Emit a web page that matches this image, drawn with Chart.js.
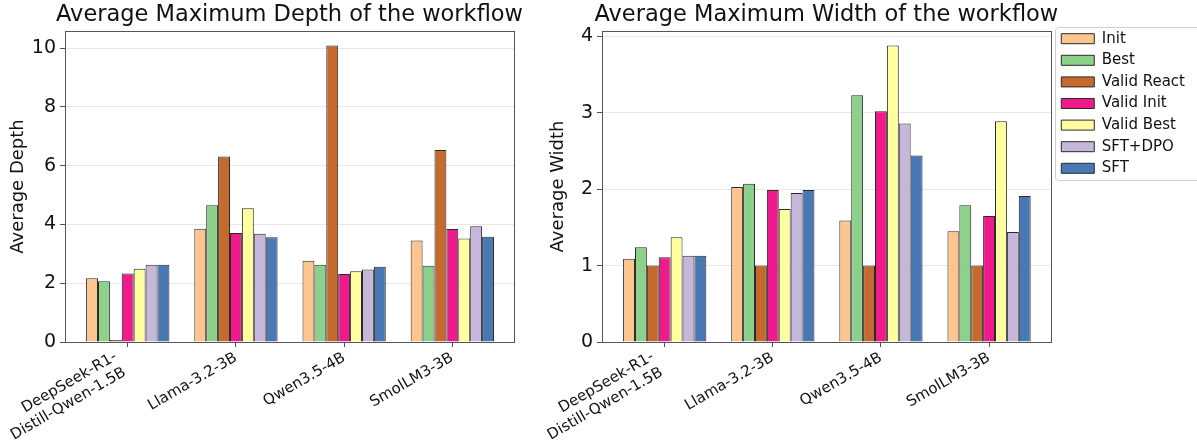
<!DOCTYPE html>
<html>
<head>
<meta charset="utf-8">
<script src="https://cdn.jsdelivr.net/npm/chart.js@4.4.1/dist/chart.umd.min.js"></script>
<style>
  body { margin: 0; background: #fff; width: 1197px; height: 441px; overflow: hidden; position: relative; }
  .box { position: absolute; top: 0; height: 441px; }
  #left { left: 0; width: 540px; }
  #right { left: 540px; width: 657px; }
</style>
</head>
<body>
<div class="box" id="left"><canvas id="depthChart"></canvas></div>
<div class="box" id="right"><canvas id="widthChart"></canvas></div>
<script>
// categories (x axis)
const models = [['DeepSeek-R1-', 'Distill-Qwen-1.5B'], 'Llama-3.2-3B', 'Qwen3.5-4B', 'SmolLM3-3B'];
const methods = ['Init', 'Best', 'Valid React', 'Valid Init', 'Valid Best', 'SFT+DPO', 'SFT'];
const methodColors = ['#fdc48f', '#8dd08b', '#c46a2e', '#f01b8b', '#ffff9f', '#c5b7da', '#4a78b5'];

// Average Maximum Depth
const depthInit       = [2.17, 3.85, 2.76, 3.45];
const depthBest       = [2.07, 4.65, 2.63, 2.59];
const depthValidReact = [0.07, 6.31, 10.09, 6.53];
const depthValidInit  = [2.33, 3.71, 2.31, 3.84];
const depthValidBest  = [2.49, 4.55, 2.41, 3.52];
const depthSftDpo     = [2.63, 3.68, 2.47, 3.94];
const depthSft        = [2.63, 3.56, 2.56, 3.58];

// Average Maximum Width
const widthInit       = [1.09, 2.03, 1.59, 1.45];
const widthBest       = [1.24, 2.07, 3.23, 1.79];
const widthValidReact = [1.00, 1.00, 1.00, 1.00];
const widthValidInit  = [1.11, 1.99, 3.02, 1.65];
const widthValidBest  = [1.37, 1.74, 3.88, 2.89];
const widthSftDpo     = [1.13, 1.95, 2.86, 1.44];
const widthSft        = [1.13, 1.99, 2.44, 1.91];

const depthTicks = [0, 2, 4, 6, 8, 10];
const widthTicks = [0, 1, 2, 3, 4];

Chart.defaults.font.family = 'DejaVu Sans';
Chart.defaults.color = '#111';

function makeDatasets(series) {
  return series.map((vals, i) => ({
    label: methods[i],
    data: vals,
    backgroundColor: methodColors[i],
    borderColor: '#2a2a2a',
    borderWidth: 1,
    barPercentage: 1.0,
    categoryPercentage: 0.77
  }));
}

// marco completo, título sin compresión y caja de la leyenda
const framePlugin = {
  id: 'frame',
  beforeLayout(chart) {
    const lg = chart.legend;
    if (lg && lg.options.display && !lg._wrapped) {
      const fit = lg.fit.bind(lg);
      lg.fit = function () { fit(); this.width += 6; };
      lg._wrapped = true;
    }
  },
  afterLayout(chart) {
    const tb = chart.titleBlock;
    if (tb) { tb.left -= 60; tb.right += 60; tb.width += 120; }
    const lg = chart.legend;
    if (lg && lg.options.display) {
      lg.left += 4; lg.width -= 4;
      lg.top += 24.6; lg.bottom += 24.6;
    }
  },
  afterDraw(chart) {
    const { ctx, chartArea: a } = chart;
    ctx.save();
    ctx.strokeStyle = '#555';
    ctx.lineWidth = 1;
    ctx.strokeRect(Math.round(a.left) + 0.5, Math.round(a.top) + 0.5,
      Math.round(a.right - a.left), Math.round(a.bottom - a.top));
    const lg = chart.legend;
    if (lg && lg.options.display) {
      ctx.strokeStyle = '#d0d0d0';
      ctx.beginPath();
      ctx.roundRect(Math.round(lg.left) + 0.5, Math.round(lg.top + 2.7) + 0.5, lg.width + 6, 153, 3);
      ctx.stroke();
    }
    ctx.restore();
  }
};

function makeChart(id, series, title, yTitle, yTicks, yMax, yWidth, rightPad, showLegend) {
  return new Chart(document.getElementById(id), {
    type: 'bar',
    data: { labels: models, datasets: makeDatasets(series) },
    options: {
      responsive: true,
      maintainAspectRatio: false,
      animation: false,
      layout: { padding: { right: rightPad, top: 0, bottom: 0, left: 0 } },
      scales: {
        x: {
          offset: true,
          grid: { display: true, drawOnChartArea: false, offset: false, tickLength: 5, tickColor: '#555' },
          border: { display: true, color: '#555' },
          ticks: { maxRotation: 30, minRotation: 30, autoSkip: false, padding: 2, font: { size: 15 }, color: '#111' },
          afterBuildTicks(scale) {
            // márgenes como en el original
            scale._startValue = -0.58;
            scale._valueRange = 4.15;
          },
          afterFit(scale) {
            scale.height = 99;
            scale.paddingLeft = 0;
            scale.paddingRight = 0;
          },
          afterUpdate(scale) {
            // la etiqueta de dos líneas va alineada por su esquina inferior
            if (scale._shiftWrapped) return;
            const compute = scale._computeLabelItems.bind(scale);
            scale._computeLabelItems = function (ca) {
              const items = compute(ca);
              items.forEach(it => {
                if (Array.isArray(it.label) && it.options && it.options.translation) {
                  it.options.translation[0] -= 12;
                  it.options.translation[1] -= 1;
                }
              });
              return items;
            };
            scale._shiftWrapped = true;
          }
        },
        y: {
          min: 0,
          max: yMax,
          afterBuildTicks(scale) { scale.ticks = yTicks.map(v => ({ value: v })); },
          grid: { color: '#e8e8e8', tickLength: 5, tickColor: '#555' },
          border: { display: true, color: '#555' },
          ticks: { font: { size: 19 }, color: '#111', padding: 4 },
          title: { display: true, text: yTitle, font: { size: 18 }, color: '#111', padding: { top: 8, bottom: 0 } },
          afterFit(scale) { scale.width = yWidth; }
        }
      },
      plugins: {
        title: {
          display: true, text: title, fullSize: false,
          font: { size: 22.5, weight: 'normal' }, color: '#111',
          padding: { top: 2, bottom: 2 }
        },
        legend: {
          display: showLegend,
          position: 'right',
          align: 'start',
          labels: { boxWidth: 33, boxHeight: 10, padding: 6.6, font: { size: 15 }, color: '#111' }
        },
        tooltip: { enabled: false }
      }
    },
    plugins: [framePlugin]
  });
}

makeChart('depthChart',
  [depthInit, depthBest, depthValidReact, depthValidInit, depthValidBest, depthSftDpo, depthSft],
  'Average Maximum Depth of the workflow', 'Average Depth', depthTicks, 10.58, 65, 26, false);

makeChart('widthChart',
  [widthInit, widthBest, widthValidReact, widthValidInit, widthValidBest, widthSftDpo, widthSft],
  'Average Maximum Width of the workflow', 'Average Width', widthTicks, 4.07, 62, 0, true);
</script>
</body>
</html>
